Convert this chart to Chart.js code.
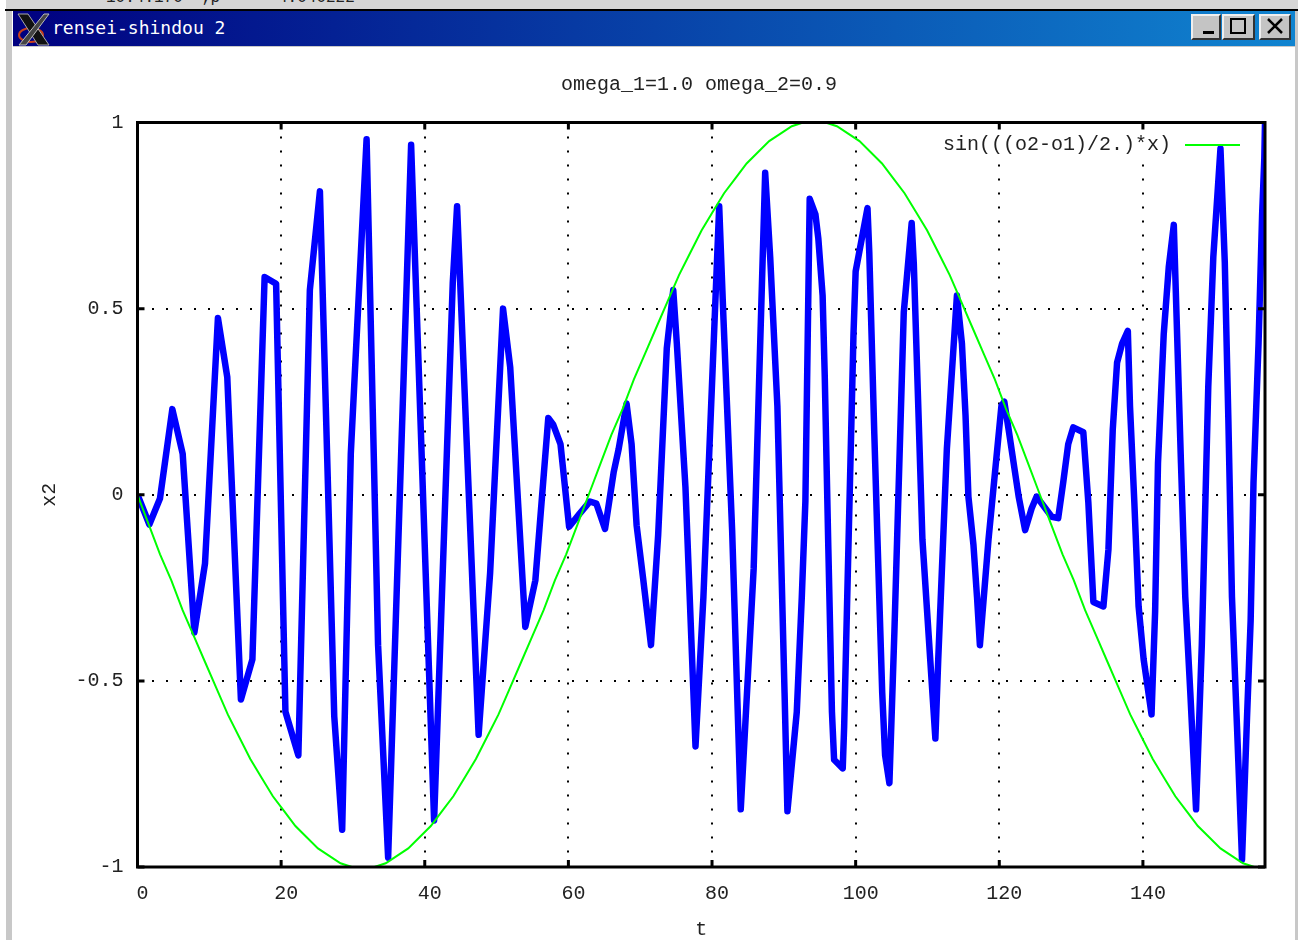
<!DOCTYPE html>
<html>
<head>
<meta charset="utf-8">
<title>rensei-shindou 2</title>
<script src="https://cdn.jsdelivr.net/npm/chart.js@4"></script>
<style>
  html, body { margin: 0; padding: 0; background: #fff; overflow: hidden; }
  #page { position: relative; width: 1298px; height: 940px; overflow: hidden; background: #fff; }
  #top-strip { position: absolute; left: 6px; top: 0; width: 1292px; height: 9px; background: #d6d6d6; overflow: hidden; }
  #top-strip span { position: absolute; top: -11px; font: 16px "Liberation Mono", monospace; color: #222; white-space: pre; }
  #top-line { position: absolute; left: 5px; top: 9px; width: 1293px; height: 2px; background: #000; }
  #left-band { position: absolute; left: 6px; top: 11px; width: 6px; height: 929px; background: #c8c8c8; }
  #right-band { position: absolute; left: 1295px; top: 11px; width: 3px; height: 929px; background: #c8c8c8; }
  #title-bar {
    position: absolute; left: 13px; top: 11px; width: 1282px; height: 35px;
    background: linear-gradient(to right, #000080, #1084d0);
    border-bottom: 1px solid #c8c8c8;
    color: #fff; font: 18px "DejaVu Sans Mono", monospace; line-height: 34px;
  }
  #title-bar svg { position: absolute; left: 3px; top: 1px; }
  #title-text { position: absolute; left: 39px; top: 0; }
  .win-btn {
    position: absolute; top: 3px; height: 26px; box-sizing: border-box; background: #c4c4c4;
    border: 2px solid; border-color: #efefef #333 #333 #efefef;
  }
  #chart { position: absolute; left: 0; top: 0; filter: blur(0.45px); }
</style>
</head>
<body>
<div id="page">
  <div id="top-strip"><span style="left: 100px">10.4.170</span><span style="left: 195px">;p</span><span style="left: 272px">4.040222</span></div>
  <div id="top-line"></div>
  <div id="left-band"></div>
  <div id="right-band"></div>
  <div id="title-bar">
    <svg width="34" height="34" viewBox="0 0 34 34">
      <ellipse cx="15" cy="23" rx="12" ry="7" fill="none" stroke="#c8401c" stroke-width="2"></ellipse>
      <path d="M2 2 L12 2 L33 33 L22 33 Z" fill="#111" stroke="#aaa"></path>
      <path d="M28 2 L33 2 L10 33 L3 33 Z" fill="#444" stroke="#bbb"></path>
    </svg>
    <span id="title-text">rensei-shindou 2</span>
    <div class="win-btn" style="left: 1178px; width: 30px"><svg width="26" height="22" style="left: 0; top: 0"><rect x="10" y="15" width="11" height="3" fill="#000"></rect></svg></div>
    <div class="win-btn" style="left: 1209px; width: 33px"><svg width="29" height="22" style="left: 0; top: 0"><rect x="7" y="3" width="14" height="14" fill="none" stroke="#000" stroke-width="2"></rect></svg></div>
    <div class="win-btn" style="left: 1246px; width: 32px"><svg width="28" height="22" style="left: 0; top: 0"><path d="M7 3 L21 17 M21 3 L7 17" stroke="#000" stroke-width="2.5"></path></svg></div>
  </div>
  <canvas id="chart" width="1298" height="940"></canvas>
</div>

<script>
'use strict';

let titleText = 'omega_1=1.0 omega_2=0.9';
let legendText = 'sin(((o2-o1)/2.)*x)';
let xLabel = 't';
let yLabel = 'x2';

let xTicks = [0, 20, 40, 60, 80, 100, 120, 140];
let yTicks = [-1, -0.5, 0, 0.5, 1];

// x2 curve, turning points
let blueT = [
  0, 1.65, 3.13, 4.85, 6.29, 7.92, 9.4, 11.2, 12.5, 14.4,
  16, 17.7, 19.3, 20.6, 22.4, 24, 25.4, 27.4, 28.5, 29.7,
  31.9, 33.5, 34.9, 38.1, 41.3, 43.9, 44.5, 47.5, 49.1, 50.9,
  51.9, 54, 55.4, 57.2, 57.9, 58.9, 60.1, 61.6, 63, 63.9,
  65.1, 66.3, 67, 68.1, 68.8, 69.5, 70.4, 71.5, 72.5, 73.7,
  74.6, 75.1, 76.3, 77.7, 78.8, 81, 81.6, 82.8, 84, 85.8,
  87.4, 88.1, 89.1, 90.1, 90.5, 91.8, 92.5, 93, 93.6, 94.4,
  94.8, 95.4, 95.7, 96.2, 96.7, 97, 98.2, 98.4, 99.7, 100,
  101.65, 101.9, 102.6, 103, 103.7, 104.1, 104.7, 105.4, 106.7, 107.8,
  108.1, 109.3, 111.1, 111.5, 112.7, 114.1, 114.8, 115.3, 115.7, 116.4,
  116.9, 117.3, 118.5, 120.3, 120.7, 121.3, 122, 122.7, 123.6, 124.5,
  125.2, 126.2, 127.3, 128.2, 128.9, 129.6, 130.3, 131.7, 132.4, 132.9,
  133.1, 134.5, 135.2, 135.8, 136.4, 137.1, 137.9, 138.2, 138.8, 139.4,
  140.1, 141.2, 141.7, 142.1, 142.9, 143.6, 144.3, 144.7, 145.3, 145.9,
  146.6, 147.4, 148.2, 148.7, 149.1, 149.8, 150.8, 151.4, 151.9, 152.4,
  153.1, 153.8, 154.5, 155, 155.4, 156.1, 156.6, 156.9, 157
];
let blueX = [
  0, -0.08, -0.01, 0.23, 0.11, -0.37, -0.185, 0.475, 0.316, -0.55,
  -0.442, 0.585, 0.567, -0.583, -0.7, 0.55, 0.815, -0.596, -0.9, 0.11,
  0.955, -0.404, -0.975, 0.94, -0.875, 0.57, 0.775, -0.645, -0.21, 0.5,
  0.342, -0.355, -0.23, 0.206, 0.188, 0.136, -0.086, -0.05, -0.018, -0.024,
  -0.092, 0.06, 0.123, 0.245, 0.136, -0.082, -0.224, -0.404, -0.108, 0.393,
  0.55, 0.406, 0.02, -0.676, -0.275, 0.775, 0.47, -0.095, -0.845, -0.198,
  0.865, 0.638, 0.239, -0.532, -0.85, -0.584, -0.275, -0.018, 0.795, 0.753,
  0.689, 0.535, 0.316, -0.147, -0.584, -0.712, -0.735, -0.622, 0.432, 0.6,
  0.77, 0.65, 0.162, -0.095, -0.532, -0.7, -0.775, -0.365, 0.49, 0.73,
  0.62, -0.121, -0.655, -0.442, 0.123, 0.535, 0.406, 0.213, -0.005, -0.134,
  -0.275, -0.404, -0.12, 0.239, 0.25, 0.175, 0.085, -0.005, -0.095, -0.037,
  -0.005, -0.031, -0.059, -0.063, 0.033, 0.136, 0.181, 0.168, -0.02, -0.211,
  -0.288, -0.3, -0.147, 0.175, 0.355, 0.406, 0.44, 0.239, -0.018, -0.3,
  -0.442, -0.59, -0.314, 0.085, 0.432, 0.612, 0.725, 0.47, 0.085, -0.275,
  -0.532, -0.845, -0.404, -0.018, 0.29, 0.638, 0.93, 0.625, 0.2, -0.275,
  -0.622, -0.98, -0.596, -0.339, 0.033, 0.406, 0.753, 0.9, 1
];

// sin curve from the legend
let greenT = [
  0, 1.57, 3.14, 4.71, 6.28, 7.85, 9.42, 11, 12.57, 14.14,
  15.71, 17.28, 18.85, 20.42, 21.99, 23.56, 25.13, 26.7, 28.27, 29.85,
  31.42, 32.99, 34.56, 36.13, 37.7, 39.27, 40.84, 42.41, 43.98, 45.55,
  47.12, 48.69, 50.27, 51.84, 53.41, 54.98, 56.55, 58.12, 59.69, 61.26,
  62.83, 64.4, 65.97, 67.54, 69.12, 70.69, 72.26, 73.83, 75.4, 76.97,
  78.54, 80.11, 81.68, 83.25, 84.82, 86.39, 87.96, 89.54, 91.11, 92.68,
  94.25, 95.82, 97.39, 98.96, 100.53, 102.1, 103.67, 105.24, 106.81, 108.38,
  109.96, 111.53, 113.1, 114.67, 116.24, 117.81, 119.38, 120.95, 122.52, 124.09,
  125.66, 127.23, 128.81, 130.38, 131.95, 133.52, 135.09, 136.66, 138.23, 139.8,
  141.37, 142.94, 144.51, 146.08, 147.65, 149.23, 150.8, 152.37, 153.94, 155.51,
  157
];
let greenX = [
  0, -0.08, -0.16, -0.23, -0.31, -0.38, -0.45, -0.52, -0.59, -0.65,
  -0.71, -0.76, -0.81, -0.85, -0.89, -0.92, -0.95, -0.97, -0.99, -1,
  -1, -1, -0.99, -0.97, -0.95, -0.92, -0.89, -0.85, -0.81, -0.76,
  -0.71, -0.65, -0.59, -0.52, -0.45, -0.38, -0.31, -0.23, -0.16, -0.08,
  0, 0.08, 0.16, 0.23, 0.31, 0.38, 0.45, 0.52, 0.59, 0.65,
  0.71, 0.76, 0.81, 0.85, 0.89, 0.92, 0.95, 0.97, 0.99, 1,
  1, 1, 0.99, 0.97, 0.95, 0.92, 0.89, 0.85, 0.81, 0.76,
  0.71, 0.65, 0.59, 0.52, 0.45, 0.38, 0.31, 0.23, 0.16, 0.08,
  0, -0.08, -0.16, -0.23, -0.31, -0.38, -0.45, -0.52, -0.59, -0.65,
  -0.71, -0.76, -0.81, -0.85, -0.89, -0.92, -0.95, -0.97, -0.99, -1,
  -1
];

let plotFont = '"Liberation Mono", monospace';
let textColor = '#222';

function toPoints(ts, vals) {
  return ts.map((t, i) => ({ x: t, y: vals[i] }));
}

// gnuplot look: frame with inward ticks, title and a legend inside the plot
let gnuplotFrame = {
  id: 'gnuplotFrame',
  beforeDatasetsDraw(chart) {
    let ctx = chart.ctx;
    ctx.save();
    ctx.fillStyle = '#fff';
    ctx.fillRect(943, 127, 302, 31);
    ctx.restore();
  },
  afterDatasetsDraw(chart) {
    let ctx = chart.ctx;
    let area = chart.chartArea;
    let tickLen = 7;

    ctx.save();
    ctx.strokeStyle = '#000';
    ctx.lineWidth = 3;
    ctx.strokeRect(area.left, area.top, area.right - area.left, area.bottom - area.top);

    ctx.beginPath();
    xTicks.forEach((v) => {
      let px = chart.scales.x.getPixelForValue(v);
      ctx.moveTo(px, area.top);
      ctx.lineTo(px, area.top + tickLen);
      ctx.moveTo(px, area.bottom);
      ctx.lineTo(px, area.bottom - tickLen);
    });
    yTicks.forEach((v) => {
      let py = chart.scales.y.getPixelForValue(v);
      ctx.moveTo(area.left, py);
      ctx.lineTo(area.left + tickLen, py);
      ctx.moveTo(area.right, py);
      ctx.lineTo(area.right - tickLen, py);
    });
    ctx.stroke();

    ctx.font = '20px ' + plotFont;
    ctx.fillStyle = textColor;
    ctx.textBaseline = 'middle';
    ctx.textAlign = 'center';
    ctx.fillText(titleText, 699, 85);
    ctx.textAlign = 'right';
    ctx.fillText(legendText, 1171, 145);

    ctx.strokeStyle = '#00ff00';
    ctx.lineWidth = 2;
    ctx.beginPath();
    ctx.moveTo(1185, 145);
    ctx.lineTo(1240, 145);
    ctx.stroke();
    ctx.restore();
  }
};

let chartElem = document.getElementById('chart');

new Chart(chartElem, {
  type: 'line',
  data: {
    datasets: [
      {
        label: legendText,
        data: toPoints(greenT, greenX),
        borderColor: '#00ff00',
        borderWidth: 2,
        pointRadius: 0,
        tension: 0
      },
      {
        label: yLabel,
        data: toPoints(blueT, blueX),
        borderColor: '#0000ff',
        borderWidth: 6.5,
        borderJoinStyle: 'round',
        pointRadius: 0,
        tension: 0
      }
    ]
  },
  options: {
    responsive: false,
    animation: false,
    devicePixelRatio: 1,
    layout: { padding: { top: 122.5, right: 33, bottom: 0, left: 0 } },
    plugins: { legend: { display: false }, title: { display: false }, tooltip: { enabled: false } },
    scales: {
      x: {
        type: 'linear',
        min: 0,
        max: 157,
        afterBuildTicks(scale) { scale.ticks = xTicks.map((v) => ({ value: v })); },
        afterFit(scale) { scale.height = 73; },
        grid: { color: '#000', lineWidth: 2, drawTicks: false },
        border: { display: false, dash: [2, 12] },
        ticks: {
          color: textColor,
          font: { family: plotFont, size: 20 },
          padding: 15,
          labelOffset: 5,
          maxRotation: 0,
          autoSkip: false
        },
        title: {
          display: true,
          text: xLabel,
          color: textColor,
          font: { family: plotFont, size: 20, lineHeight: 1 },
          padding: 0
        }
      },
      y: {
        min: -1,
        max: 1,
        afterBuildTicks(scale) { scale.ticks = yTicks.map((v) => ({ value: v })); },
        afterFit(scale) { scale.width = 137.5; },
        grid: { color: '#000', lineWidth: 2, drawTicks: false },
        border: { display: false, dash: [2, 12] },
        ticks: {
          color: textColor,
          font: { family: plotFont, size: 20 },
          padding: 14,
          autoSkip: false,
          callback(v) { return String(v); }
        },
        title: {
          display: true,
          text: yLabel,
          color: textColor,
          font: { family: plotFont, size: 20, lineHeight: 1 },
          padding: { top: 40, bottom: 0 }
        }
      }
    }
  },
  plugins: [gnuplotFrame]
});
</script>
</body>
</html>
